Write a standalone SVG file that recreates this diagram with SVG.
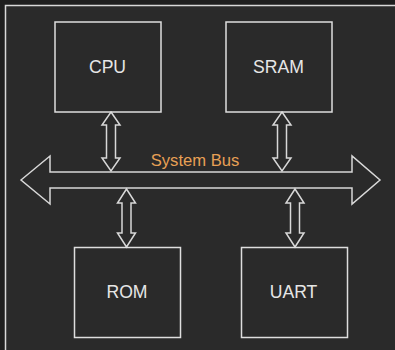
<svg xmlns="http://www.w3.org/2000/svg" width="395" height="350" viewBox="0 0 395 350">
<style>
.box{fill:none;stroke:#dedede;stroke-width:1.5}
.lbl{font-family:"Liberation Sans",Arial,sans-serif;font-size:17.6px;fill:#e6e6e6;text-anchor:middle}
.conn{fill:#2a2a2a;stroke:#d8d8d8;stroke-width:1.5;stroke-linejoin:miter}
.bus{font-family:"Liberation Sans",Arial,sans-serif;font-size:16.6px;fill:#e8a055;text-anchor:middle}
</style>
<rect width="395" height="350" fill="#1e1e1e"/>
<rect x="5.5" y="5.5" width="400" height="360" fill="#2a2a2a" stroke="#d8d8d8" stroke-width="1.5"/>
<g id="connectors">
<polygon class="conn" points="21,180 50,156 50,172 352,172 352,156 380,180 352,204 352,188 50,188 50,204"/>
<polygon class="conn" points="111,112 120,125 115.5,125 115.5,158 120,158 111,171 102,158 106.5,158 106.5,125 102,125"/>
<polygon class="conn" points="282,112 291,125 286.5,125 286.5,158 291,158 282,171 273,158 277.5,158 277.5,125 273,125"/>
<polygon class="conn" points="126.5,189 135.5,203 131,203 131,233 135.5,233 126.5,247 117.5,233 122,233 122,203 117.5,203"/>
<polygon class="conn" points="295,189 304,203 299.5,203 299.5,233 304,233 295,247 286,233 290.5,233 290.5,203 286,203"/>
<text class="bus" x="195" y="166">System Bus</text>
</g>
<g id="cpu"><rect class="box" x="55" y="22" width="106" height="90"/><text class="lbl" x="107.5" y="72.5">CPU</text></g>
<g id="sram"><rect class="box" x="226" y="22" width="106" height="90"/><text class="lbl" x="278.5" y="72.5">SRAM</text></g>
<g id="rom"><rect class="box" x="74.5" y="247.5" width="106" height="90"/><text class="lbl" x="127" y="298">ROM</text></g>
<g id="uart"><rect class="box" x="241.5" y="247.5" width="106" height="90"/><text class="lbl" x="293.5" y="298">UART</text></g>
</svg>
